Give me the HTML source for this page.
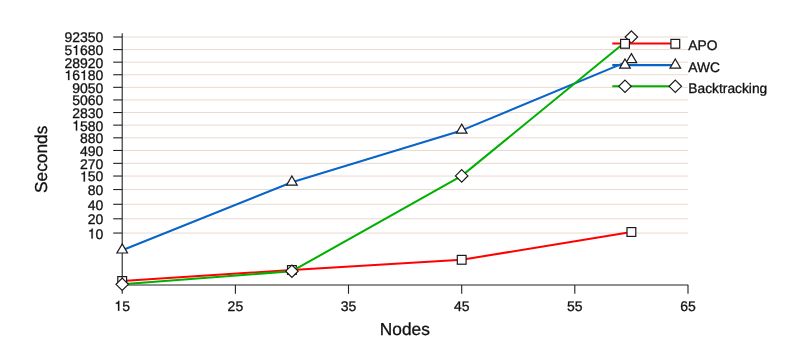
<!DOCTYPE html>
<html><head><meta charset="utf-8"><title>chart</title>
<style>
html,body{margin:0;padding:0;background:#fff;}
body{width:803px;height:360px;position:relative;overflow:hidden;font-family:"Liberation Sans",sans-serif;}
svg{will-change:transform;}
svg text{font-family:"Liberation Sans",sans-serif;fill:#111;stroke:#111;stroke-width:0.3px;text-rendering:geometricPrecision;}
.t{font-size:14px;}
.l{font-size:17.3px;}
.g{font-size:13.8px;}
.h{fill:none;stroke:none;}
.m{fill:#fff;stroke:#1a1a1a;stroke-width:1.2;stroke-linejoin:miter;}
</style></head><body>
<svg width="803" height="360" viewBox="0 0 803 360" style="position:absolute;left:0;top:0">
<rect width="803" height="360" fill="#fff"/>
<line x1="122.2" y1="37.0" x2="688.0" y2="37.0" stroke="#e9d9cf" stroke-width="1"/>
<line x1="122.2" y1="49.58" x2="688.0" y2="49.58" stroke="#e9d9cf" stroke-width="1"/>
<line x1="122.2" y1="62.16" x2="688.0" y2="62.16" stroke="#e9d9cf" stroke-width="1"/>
<line x1="122.2" y1="74.74" x2="688.0" y2="74.74" stroke="#e9d9cf" stroke-width="1"/>
<line x1="122.2" y1="87.33" x2="688.0" y2="87.33" stroke="#e9d9cf" stroke-width="1"/>
<line x1="122.2" y1="99.93" x2="688.0" y2="99.93" stroke="#e9d9cf" stroke-width="1"/>
<line x1="122.2" y1="112.52" x2="688.0" y2="112.52" stroke="#e9d9cf" stroke-width="1"/>
<line x1="122.2" y1="125.14" x2="688.0" y2="125.14" stroke="#e9d9cf" stroke-width="1"/>
<line x1="122.2" y1="137.82" x2="688.0" y2="137.82" stroke="#e9d9cf" stroke-width="1"/>
<line x1="122.2" y1="150.48" x2="688.0" y2="150.48" stroke="#e9d9cf" stroke-width="1"/>
<line x1="122.2" y1="163.36" x2="688.0" y2="163.36" stroke="#e9d9cf" stroke-width="1"/>
<line x1="122.2" y1="176.04" x2="688.0" y2="176.04" stroke="#e9d9cf" stroke-width="1"/>
<line x1="122.2" y1="189.53" x2="688.0" y2="189.53" stroke="#e9d9cf" stroke-width="1"/>
<line x1="122.2" y1="204.29" x2="688.0" y2="204.29" stroke="#e9d9cf" stroke-width="1"/>
<line x1="122.2" y1="218.79" x2="688.0" y2="218.79" stroke="#e9d9cf" stroke-width="1"/>
<line x1="122.2" y1="233.05" x2="688.0" y2="233.05" stroke="#e9d9cf" stroke-width="1"/>
<polyline points="122.2,281.0 291.9,270.0 461.7,259.8 631.4,232.0" fill="none" stroke="#ff0000" stroke-width="2.05" stroke-linejoin="round"/>
<rect x="117.8" y="276.6" width="8.8" height="8.8" class="m"/>
<rect x="287.5" y="265.6" width="8.8" height="8.8" class="m"/>
<rect x="457.3" y="255.4" width="8.8" height="8.8" class="m"/>
<rect x="627.0" y="227.6" width="8.8" height="8.8" class="m"/>
<path d="M122.2,33.2 L122.2,284.95 M122.2,293.8 L122.2,284.95 L688.0,284.95 L688.0,293.8" fill="none" stroke="#222" stroke-width="1.1" stroke-linejoin="round" stroke-linecap="butt"/>
<line x1="113.2" y1="37.0" x2="122.2" y2="37.0" stroke="#222" stroke-width="1.1"/>
<text x="103.4" y="42.4" text-anchor="end" class="t">92350</text>
<line x1="113.2" y1="49.58" x2="122.2" y2="49.58" stroke="#222" stroke-width="1.1"/>
<text x="103.4" y="55.0" text-anchor="end" class="t">5<tspan class="h">1</tspan>680</text>
<path transform="translate(72.25,55.0) scale(0.0140,-0.0140)" d="M102,505 L259,505 L259,0 L349,0 L349,709 L290,709 C272,640 222,583 102,571 Z" fill="#111" stroke="#111" stroke-width="18"/>
<line x1="113.2" y1="62.16" x2="122.2" y2="62.16" stroke="#222" stroke-width="1.1"/>
<text x="103.4" y="67.6" text-anchor="end" class="t">28920</text>
<line x1="113.2" y1="74.74" x2="122.2" y2="74.74" stroke="#222" stroke-width="1.1"/>
<text x="103.4" y="80.1" text-anchor="end" class="t"><tspan class="h">1</tspan>6<tspan class="h">1</tspan>80</text>
<path transform="translate(64.47,80.1) scale(0.0140,-0.0140)" d="M102,505 L259,505 L259,0 L349,0 L349,709 L290,709 C272,640 222,583 102,571 Z" fill="#111" stroke="#111" stroke-width="18"/>
<path transform="translate(80.04,80.1) scale(0.0140,-0.0140)" d="M102,505 L259,505 L259,0 L349,0 L349,709 L290,709 C272,640 222,583 102,571 Z" fill="#111" stroke="#111" stroke-width="18"/>
<line x1="113.2" y1="87.33" x2="122.2" y2="87.33" stroke="#222" stroke-width="1.1"/>
<text x="103.4" y="92.7" text-anchor="end" class="t">9050</text>
<line x1="113.2" y1="99.93" x2="122.2" y2="99.93" stroke="#222" stroke-width="1.1"/>
<text x="103.4" y="105.3" text-anchor="end" class="t">5060</text>
<line x1="113.2" y1="112.52" x2="122.2" y2="112.52" stroke="#222" stroke-width="1.1"/>
<text x="103.4" y="117.9" text-anchor="end" class="t">2830</text>
<line x1="113.2" y1="125.14" x2="122.2" y2="125.14" stroke="#222" stroke-width="1.1"/>
<text x="103.4" y="130.5" text-anchor="end" class="t"><tspan class="h">1</tspan>580</text>
<path transform="translate(72.25,130.5) scale(0.0140,-0.0140)" d="M102,505 L259,505 L259,0 L349,0 L349,709 L290,709 C272,640 222,583 102,571 Z" fill="#111" stroke="#111" stroke-width="18"/>
<line x1="113.2" y1="137.82" x2="122.2" y2="137.82" stroke="#222" stroke-width="1.1"/>
<text x="103.4" y="143.2" text-anchor="end" class="t">880</text>
<line x1="113.2" y1="150.48" x2="122.2" y2="150.48" stroke="#222" stroke-width="1.1"/>
<text x="103.4" y="155.9" text-anchor="end" class="t">490</text>
<line x1="113.2" y1="163.36" x2="122.2" y2="163.36" stroke="#222" stroke-width="1.1"/>
<text x="103.4" y="168.8" text-anchor="end" class="t">270</text>
<line x1="113.2" y1="176.04" x2="122.2" y2="176.04" stroke="#222" stroke-width="1.1"/>
<text x="103.4" y="181.4" text-anchor="end" class="t"><tspan class="h">1</tspan>50</text>
<path transform="translate(80.04,181.4) scale(0.0140,-0.0140)" d="M102,505 L259,505 L259,0 L349,0 L349,709 L290,709 C272,640 222,583 102,571 Z" fill="#111" stroke="#111" stroke-width="18"/>
<line x1="113.2" y1="189.53" x2="122.2" y2="189.53" stroke="#222" stroke-width="1.1"/>
<text x="103.4" y="194.9" text-anchor="end" class="t">80</text>
<line x1="113.2" y1="204.29" x2="122.2" y2="204.29" stroke="#222" stroke-width="1.1"/>
<text x="103.4" y="209.7" text-anchor="end" class="t">40</text>
<line x1="113.2" y1="218.79" x2="122.2" y2="218.79" stroke="#222" stroke-width="1.1"/>
<text x="103.4" y="224.2" text-anchor="end" class="t">20</text>
<line x1="113.2" y1="233.05" x2="122.2" y2="233.05" stroke="#222" stroke-width="1.1"/>
<text x="103.4" y="238.5" text-anchor="end" class="t"><tspan class="h">1</tspan>0</text>
<path transform="translate(87.83,238.5) scale(0.0140,-0.0140)" d="M102,505 L259,505 L259,0 L349,0 L349,709 L290,709 C272,640 222,583 102,571 Z" fill="#111" stroke="#111" stroke-width="18"/>
<text x="122.2" y="310.8" text-anchor="middle" class="t"><tspan class="h">1</tspan>5</text>
<path transform="translate(114.41,310.8) scale(0.0140,-0.0140)" d="M102,505 L259,505 L259,0 L349,0 L349,709 L290,709 C272,640 222,583 102,571 Z" fill="#111" stroke="#111" stroke-width="18"/>
<line x1="235.4" y1="284.95" x2="235.4" y2="293.8" stroke="#222" stroke-width="1.1"/>
<text x="235.4" y="310.8" text-anchor="middle" class="t">25</text>
<line x1="348.5" y1="284.95" x2="348.5" y2="293.8" stroke="#222" stroke-width="1.1"/>
<text x="348.5" y="310.8" text-anchor="middle" class="t">35</text>
<line x1="461.7" y1="284.95" x2="461.7" y2="293.8" stroke="#222" stroke-width="1.1"/>
<text x="461.7" y="310.8" text-anchor="middle" class="t">45</text>
<line x1="574.8" y1="284.95" x2="574.8" y2="293.8" stroke="#222" stroke-width="1.1"/>
<text x="574.8" y="310.8" text-anchor="middle" class="t">55</text>
<text x="688.0" y="310.8" text-anchor="middle" class="t">65</text>
<text x="404.8" y="334.9" text-anchor="middle" class="l">Nodes</text>
<text transform="translate(46.9,159.3) rotate(-90)" text-anchor="middle" class="l">Seconds</text>
<polyline points="122.2,250.2 291.9,182.3 461.7,130.4 631.4,59.9" fill="none" stroke="#0864c8" stroke-width="2.05" stroke-linejoin="round"/>
<path d="M122.2,243.9 L127.5,253.0 L116.9,253.0 Z" class="m"/>
<path d="M291.9,176.0 L297.2,185.1 L286.6,185.1 Z" class="m"/>
<path d="M461.7,124.1 L467.0,133.2 L456.4,133.2 Z" class="m"/>
<path d="M631.4,53.6 L636.7,62.7 L626.1,62.7 Z" class="m"/>
<polyline points="122.2,284.3 291.9,271.2 461.7,175.9 631.4,37.0" fill="none" stroke="#00b000" stroke-width="2.05" stroke-linejoin="round"/>
<path d="M122.2,278.1 L128.4,284.3 L122.2,290.5 L116.0,284.3 Z" class="m"/>
<path d="M291.9,265.0 L298.1,271.2 L291.9,277.4 L285.7,271.2 Z" class="m"/>
<path d="M461.7,169.7 L467.9,175.9 L461.7,182.1 L455.5,175.9 Z" class="m"/>
<path d="M631.4,30.8 L637.6,37.0 L631.4,43.2 L625.2,37.0 Z" class="m"/>
<line x1="612.3" y1="43.5" x2="675.3" y2="43.5" stroke="#ff0000" stroke-width="2.05"/>
<rect x="620.6" y="39.4" width="8.8" height="8.8" class="m"/>
<rect x="670.9" y="39.4" width="8.8" height="8.8" class="m"/>
<text x="688.3" y="50.3" class="t g">APO</text>
<line x1="612.3" y1="65.1" x2="675.3" y2="65.1" stroke="#0864c8" stroke-width="2.05"/>
<path d="M625.0,59.0 L630.3,68.1 L619.7,68.1 Z" class="m"/>
<path d="M675.3,59.0 L680.6,68.1 L670.0,68.1 Z" class="m"/>
<text x="688.3" y="72.0" class="t g">AWC</text>
<line x1="612.3" y1="86.2" x2="675.3" y2="86.2" stroke="#00b000" stroke-width="2.05"/>
<path d="M625.0,80.1 L631.2,86.3 L625.0,92.5 L618.8,86.3 Z" class="m"/>
<path d="M675.3,80.1 L681.5,86.3 L675.3,92.5 L669.1,86.3 Z" class="m"/>
<text x="688.3" y="93.4" class="t g">Backtracking</text>
</svg>
</body></html>
